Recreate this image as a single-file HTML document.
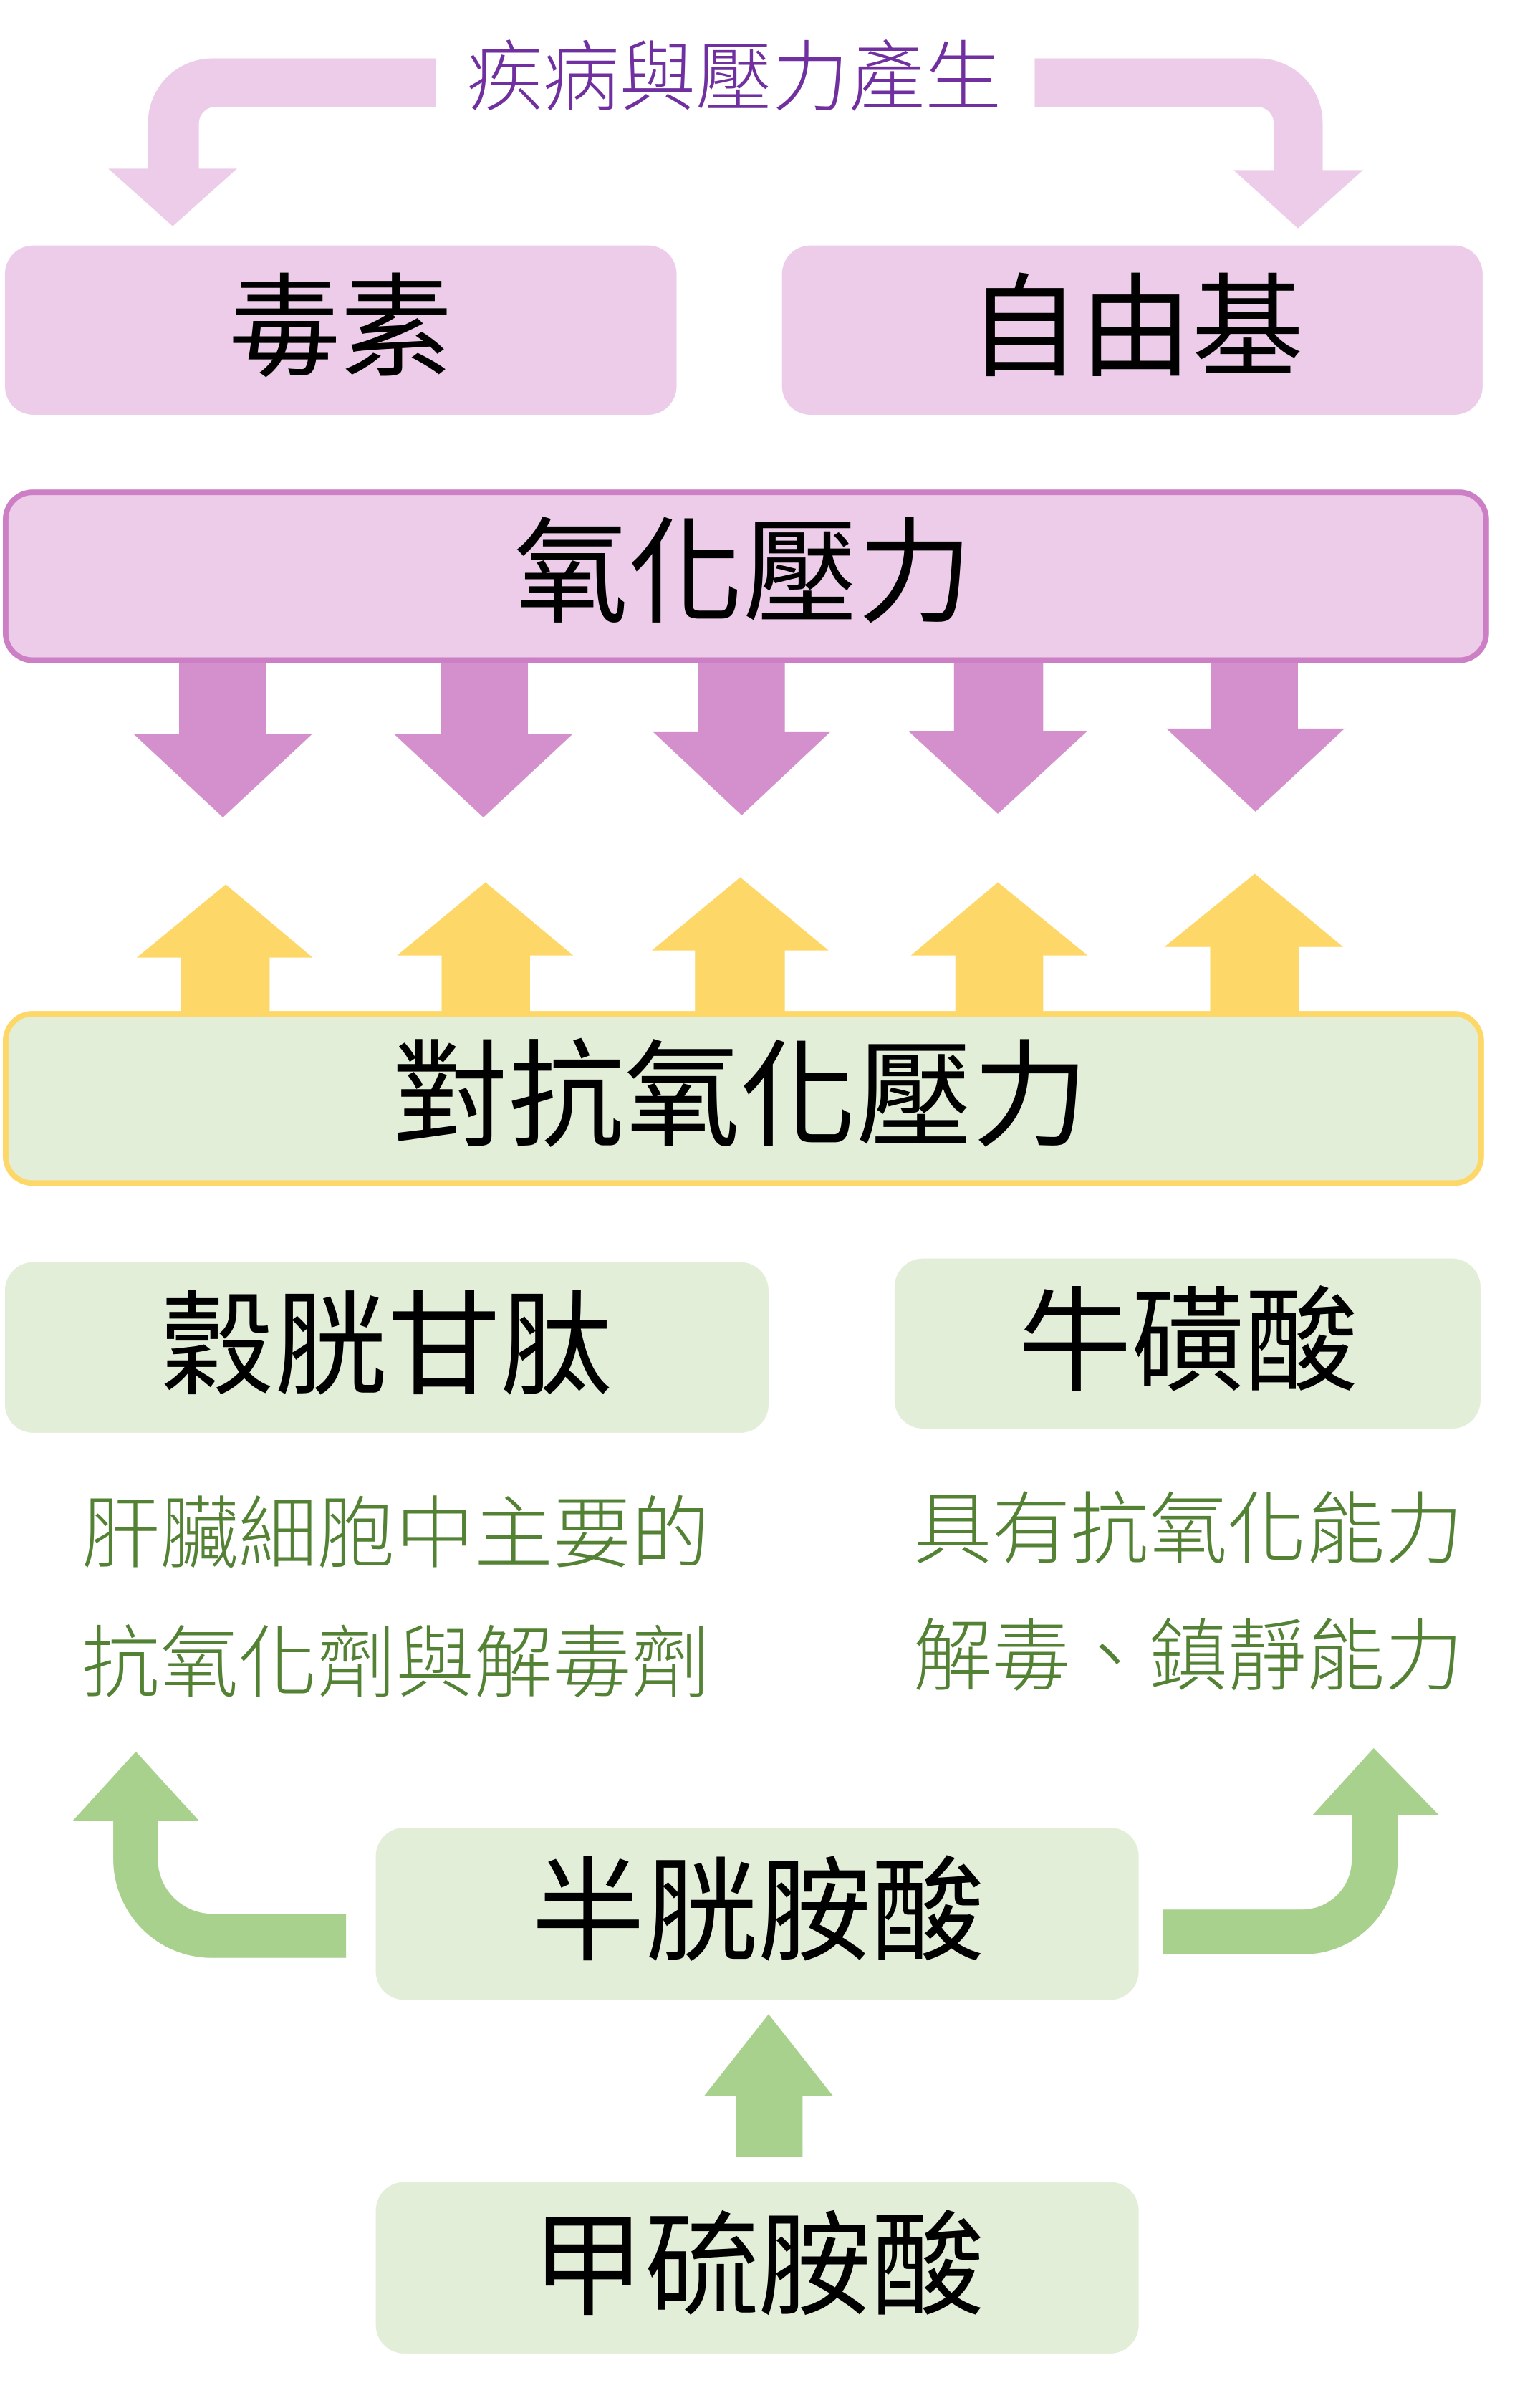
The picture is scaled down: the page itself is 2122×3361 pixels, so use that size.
<!DOCTYPE html>
<html><head><meta charset="utf-8"><style>
html,body{margin:0;padding:0;background:#fff;}
svg{display:block;}
text{font-family:"Liberation Sans","Noto Sans CJK TC",sans-serif;font-weight:400;}
text.l{font-weight:300;}
</style></head><body>
<svg width="2122" height="3361" viewBox="0 0 2122 3361" xmlns="http://www.w3.org/2000/svg">
<g transform="translate(0,4) scale(0.988,0.993)">
<!-- top arrows -->
<path d="M616,78 H300 A91,91 0 0 0 209,169 V233 H153 L244,314 L335,233 H281 V170 A24,24 0 0 1 305,146 H616 Z" fill="#ecccE8"/>
<path d="M1462,78 H1778 A91,91 0 0 1 1869,169 V235 H1926 L1834,317 L1743,235 H1800 V170 A24,24 0 0 0 1776,146 H1462 Z" fill="#ecccE8"/>
<text class="l" x="1037" y="105" font-size="108" fill="#7030a0" text-anchor="middle" dominant-baseline="central">疾病與壓力產生</text>

<rect x="7" y="341" width="949" height="238" rx="40" fill="#ecccE8"/>
<text x="481" y="458" font-size="158" fill="#000" text-anchor="middle" dominant-baseline="central">毒素</text>
<rect x="1105" y="341" width="990" height="238" rx="40" fill="#ecccE8"/>
<text x="1605" y="458" font-size="158" fill="#000" text-anchor="middle" dominant-baseline="central">自由基</text>

<rect x="8" y="688" width="2092" height="236" rx="38" fill="#ecccE8" stroke="#cc7fc4" stroke-width="8"/>
<text x="1050" y="803" font-size="162" fill="#000" text-anchor="middle" dominant-baseline="central">氧化壓力</text>

<!-- down arrows -->
<g fill="#d490cc">
<polygon points="253,928 376,928 376,1028 441,1028 315,1145 189,1028 253,1028"/>
<polygon points="623,928 746,928 746,1028 809,1028 683,1145 557,1028 623,1028"/>
<polygon points="986,928 1109,928 1109,1025 1173,1025 1048,1142 923,1025 986,1025"/>
<polygon points="1348,928 1474,928 1474,1024 1536,1024 1410,1140 1284,1024 1348,1024"/>
<polygon points="1711,928 1834,928 1834,1020 1900,1020 1774,1137 1648,1020 1711,1020"/>
</g>
<!-- up arrows -->
<g fill="#fdd868">
<polygon points="319,1239 442,1342 381,1342 381,1420 256,1420 256,1342 193,1342"/>
<polygon points="686,1236 810,1339 749,1339 749,1420 624,1420 624,1339 561,1339"/>
<polygon points="1046,1229 1171,1332 1109,1332 1109,1420 982,1420 982,1332 921,1332"/>
<polygon points="1410,1236 1537,1339 1474,1339 1474,1420 1350,1420 1350,1339 1287,1339"/>
<polygon points="1773,1224 1898,1327 1835,1327 1835,1420 1710,1420 1710,1327 1645,1327"/>
</g>
<rect x="8" y="1421" width="2085" height="238" rx="38" fill="#e2eed8" stroke="#fdd868" stroke-width="8"/>
<text x="1046" y="1538" font-size="164" fill="#000" text-anchor="middle" dominant-baseline="central">對抗氧化壓力</text>

<rect x="7" y="1770" width="1079" height="240" rx="40" fill="#e2eed8"/>
<text x="547" y="1888" font-size="160" fill="#000" text-anchor="middle" dominant-baseline="central">穀胱甘肽</text>
<rect x="1264" y="1765" width="828" height="239" rx="40" fill="#e2eed8"/>
<text x="1679" y="1883" font-size="160" fill="#000" text-anchor="middle" dominant-baseline="central">牛磺酸</text>

<g font-size="111" fill="#548235" text-anchor="middle" dominant-baseline="central">
<text class="l" x="559" y="2153">肝臟細胞中主要的</text>
<text class="l" x="559" y="2335">抗氧化劑與解毒劑</text>
<text class="l" x="1679" y="2147">具有抗氧化能力</text>
<text class="l" x="1679" y="2325">解毒、鎮靜能力</text>
</g>

<!-- green arrows -->
<g fill="#a9d18e">
<path d="M489,2686 H300 A77,77 0 0 1 223,2609 V2555 H281 L192,2458 L103,2555 H160 V2609 A139,139 0 0 0 299,2748 H489 Z"/>
<path d="M1643,2680 H1840 A70,70 0 0 0 1910,2610 V2547 H1855 L1941,2453 L2033,2547 H1975 V2610 A133,133 0 0 1 1842,2743 H1643 Z"/>
<polygon points="1086,2827 1177,2942 1134,2942 1134,3028 1040,3028 1040,2942 995,2942"/>
</g>

<rect x="531" y="2565" width="1078" height="242" rx="40" fill="#e2eed8"/>
<text x="1071" y="2684" font-size="160" fill="#000" text-anchor="middle" dominant-baseline="central">半胱胺酸</text>
<rect x="531" y="3063" width="1078" height="241" rx="40" fill="#e2eed8"/>
<text x="1071" y="3182" font-size="160" fill="#000" text-anchor="middle" dominant-baseline="central">甲硫胺酸</text>
</g>
</svg>
</body></html>
